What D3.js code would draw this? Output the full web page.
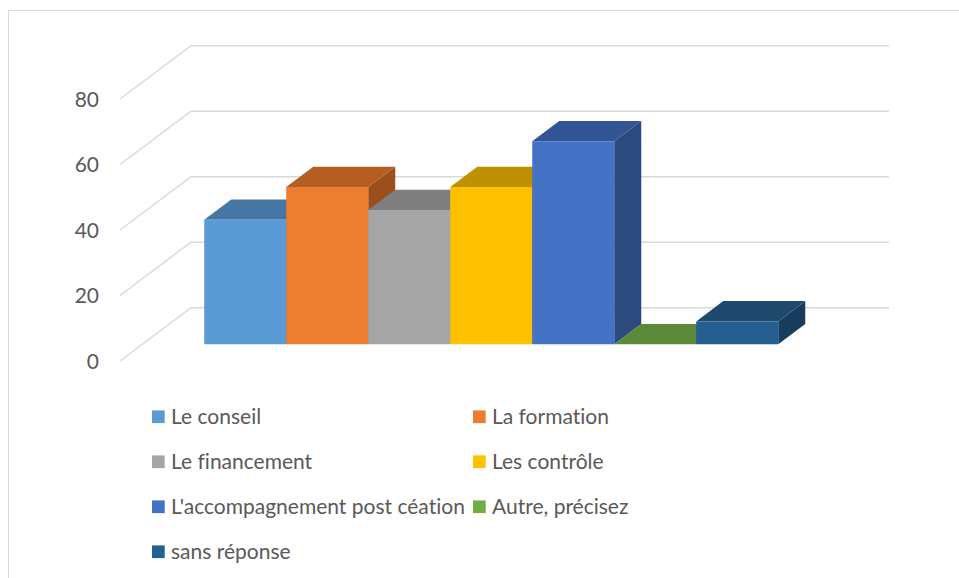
<!DOCTYPE html>
<html>
<head>
<meta charset="utf-8">
<title>Accompagnement</title>
<script src="https://cdn.jsdelivr.net/npm/d3@7"></script>
<style>
    body { margin: 0; background: #fff; }
    svg { display: block; }
    text { font-family: Lato, "Open Sans", sans-serif; fill: #595959; font-variant-ligatures: none; }
</style>
</head>
<body>
<svg width="959" height="578"></svg>
<script>
    // data
    var series = ["Le conseil", "La formation", "Le financement", "Les contrôle",
        "L'accompagnement post céation", "Autre, précisez", "sans réponse"];
    var values = [38, 48, 41, 48, 62, 0, 7];
    var yTicks = [0, 20, 40, 60, 80];

    var frontColors = ["#5B9BD5", "#ED7D31", "#A5A5A5", "#FFC000", "#4472C4", "#5A8A38", "#255E91"];
    var topColors   = ["#4677A4", "#B55E23", "#7F7F7F", "#BF9000", "#335595", "#5A8A38", "#1F4A6E"];
    var sideColors  = ["#3A628A", "#9A4F1D", "#6E6E6E", "#A37B00", "#2C4A7E", "#4C7630", "#183D5C"];
    var legendColors = ["#5B9BD5", "#ED7D31", "#A5A5A5", "#FFC000", "#4472C4", "#70AD47", "#255E91"];

    var svg = d3.select("svg");

    // outer chart border
    svg.append("rect")
        .attr("x", 8.5).attr("y", 10.5)
        .attr("width", 980).attr("height", 600)
        .attr("fill", "none")
        .attr("stroke", "#D9D9D9")
        .attr("stroke-width", 1);

    // front plane of the 3D box, and the depth offset
    var x0 = 120, x1 = 818;
    var DX = 71, DY = 53.3;
    var y = d3.scaleLinear().domain([0, 80]).range([361, 99]);

    var x = d3.scaleBand()
        .domain(series)
        .range([x0, x1])
        .paddingInner(0)
        .paddingOuter(0.756);

    function proj(px, v, t) {
        return [px + t * DX, y(v) - t * DY];
    }

    // walls
    var grid = svg.append("g")
        .attr("stroke", "#D9D9D9")
        .attr("stroke-width", 1.5)
        .attr("fill", "none");

    yTicks.forEach(function(v) {
        var a = proj(x0, v, 0), b = proj(x0, v, 1), c = proj(x1, v, 1);
        grid.append("path")
            .attr("d", "M" + a + "L" + b + "L" + c);
    });

    // value labels
    svg.append("g").selectAll("text")
        .data(yTicks)
        .enter().append("text")
        .attr("x", 99)
        .attr("y", function(d) { return y(d); })
        .attr("dy", "0.36em")
        .attr("text-anchor", "end")
        .attr("font-size", 21)
        .text(function(d) { return d; });

    // bars, drawn left to right: side, top, then front
    var t0 = 0.313, t1 = 0.694;
    var bars = svg.append("g");

    series.forEach(function(s, i) {
        var v = values[i];
        var L = x(s), R = x(s) + x.bandwidth();
        var g = bars.append("g");

        function poly(pts) {
            return "M" + pts.map(function(p) { return p.join(","); }).join("L") + "Z";
        }

        if (v > 0) {
            g.append("path")
                .attr("d", poly([proj(R, 0, t0), proj(R, 0, t1), proj(R, v, t1), proj(R, v, t0)]))
                .attr("fill", sideColors[i]);
        }
        g.append("path")
            .attr("d", poly([proj(L, v, t0), proj(R, v, t0), proj(R, v, t1), proj(L, v, t1)]))
            .attr("fill", topColors[i]);
        if (v > 0) {
            g.append("path")
                .attr("d", poly([proj(L, 0, t0), proj(R, 0, t0), proj(R, v, t0), proj(L, v, t0)]))
                .attr("fill", frontColors[i]);
        }
    });

    // legend, two columns
    var legend = svg.append("g");
    var colX = [152, 473], rowY0 = 416.7, rowStep = 45;

    series.forEach(function(s, i) {
        var cx = colX[i % 2], cy = rowY0 + Math.floor(i / 2) * rowStep;
        legend.append("rect")
            .attr("x", cx).attr("y", cy - 6.3)
            .attr("width", 12.7).attr("height", 12.7)
            .attr("fill", legendColors[i]);
        legend.append("text")
            .attr("x", cx + 19)
            .attr("y", cy)
            .attr("dy", "0.36em")
            .attr("font-size", 21)
            .text(s);
    });
</script>
</body>
</html>
